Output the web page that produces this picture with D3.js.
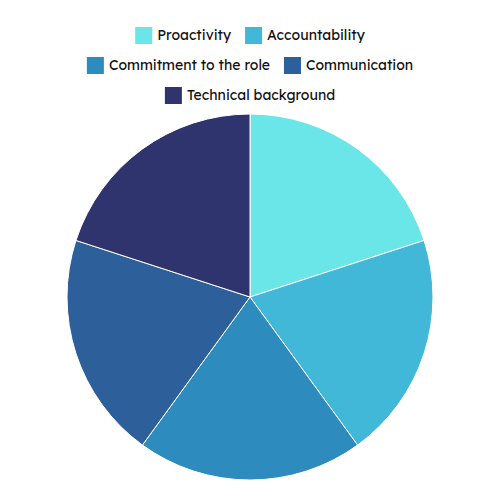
<!DOCTYPE html>
<html><head><meta charset="utf-8">
<script src="https://cdn.jsdelivr.net/npm/d3@7"></script>
<style>body{margin:0;background:#fff}</style>
</head><body>
<svg id="c" width="500" height="500"></svg>
<script>
const categories = ["Proactivity","Accountability","Commitment to the role","Communication","Technical background"];
const values = [20,20,20,20,20];
const colors = ["#6ae5e8","#41b8d8","#2e8bbd","#2d5f9a","#2f346e"];
const legendRows = [[0,1],[2,3],[4]];

const svg = d3.select("#c");
const cx = 250, cy = 297, r = 183;
const pie = d3.pie().sort(null).value(d=>d)(values);
const arc = d3.arc().innerRadius(0).outerRadius(r);
svg.append("g").attr("transform",`translate(${cx},${cy})`)
  .selectAll("path").data(pie).join("path")
  .attr("d",arc).attr("fill",(d,i)=>colors[i])
  .attr("stroke","#fff").attr("stroke-width",1);

const font = "Lexend, Inter, 'Noto Sans', sans-serif";
const box = 17, gap = 5, itemGap = 14;
const tmp = svg.append("text").attr("font-family",font).attr("font-size",14);
function tw(s){tmp.text(s);return tmp.node().getComputedTextLength();}
legendRows.forEach((row,ri)=>{
  const widths = row.map(i=>box+gap+tw(categories[i]));
  const total = widths.reduce((a,b)=>a+b,0)+itemGap*(row.length-1);
  let x = 250-total/2;
  const y = 27+ri*30;
  row.forEach((i,k)=>{
    svg.append("rect").attr("x",x).attr("y",y).attr("width",box).attr("height",box).attr("fill",colors[i]);
    svg.append("text").attr("x",x+box+gap).attr("y",y+box/2).attr("dy","0.35em")
      .attr("font-family",font).attr("font-size",14).attr("fill","#111").text(categories[i]);
    x += widths[k]+itemGap;
  });
});
tmp.remove();
</script>
</body></html>
